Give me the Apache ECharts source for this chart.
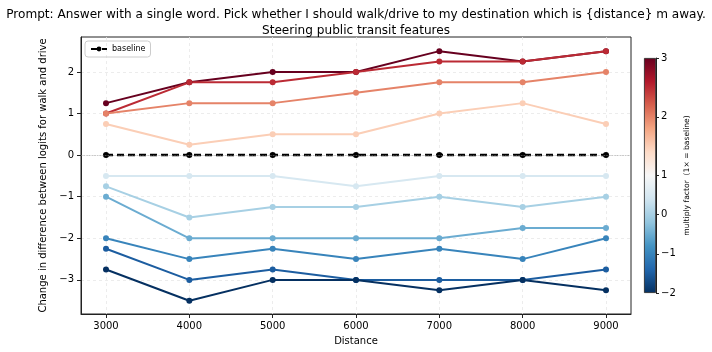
<!DOCTYPE html>
<html>
<head>
<meta charset="utf-8">
<script src="https://cdn.jsdelivr.net/npm/echarts@6/dist/echarts.min.js"></script>
<style>
  html, body { margin: 0; padding: 0; background: #fff; }
  #chart { width: 712px; height: 352px; }
</style>
</head>
<body>
<div id="chart"></div>
<script>
// NOTE - 数据
const distances = [3000, 4000, 5000, 6000, 7000, 8000, 9000]
const baseline = [0, 0, 0, 0, 0, 0, 0]
const factors = [3, 2.5, 2, 1.5, 0.5, 0, -0.5, -1, -1.5, -2]
const factorValues = [
  [1.25, 1.75, 2.0, 2.0, 2.5, 2.25, 2.5],      // 3
  [1.0, 1.75, 1.75, 2.0, 2.25, 2.25, 2.5],     // 2.5
  [1.0, 1.25, 1.25, 1.5, 1.75, 1.75, 2.0],     // 2
  [0.75, 0.25, 0.5, 0.5, 1.0, 1.25, 0.75],     // 1.5
  [-0.5, -0.5, -0.5, -0.75, -0.5, -0.5, -0.5], // 0.5
  [-0.75, -1.5, -1.25, -1.25, -1.0, -1.25, -1.0], // 0
  [-1.0, -2.0, -2.0, -2.0, -2.0, -1.75, -1.75],   // -0.5
  [-2.0, -2.5, -2.25, -2.5, -2.25, -2.5, -2.0],   // -1
  [-2.25, -3.0, -2.75, -3.0, -3.0, -3.0, -2.75],  // -1.5
  [-2.75, -3.5, -3.0, -3.0, -3.25, -3.0, -3.25]   // -2
]
const cbarTicks = [-2, -1, 0, 1, 2, 3]
const cbarMin = -2, cbarCenter = 1, cbarMax = 3

// RdBu_r 色带
const rdbu = ['#053061', '#2166ac', '#4393c3', '#92c5de', '#d1e5f0', '#f7f7f7',
  '#fddbc7', '#f4a582', '#d6604d', '#b2182b', '#67001f']

// 两段归一化 (中心 = 1)
const norm = v => v <= cbarCenter
  ? 0.5 * (v - cbarMin) / (cbarCenter - cbarMin)
  : 0.5 + 0.5 * (v - cbarCenter) / (cbarMax - cbarCenter)

const hex = c => [1, 3, 5].map(i => parseInt(c.slice(i, i + 2), 16))
const colorAt = t => {
  const p = t * (rdbu.length - 1)
  const i = Math.min(Math.floor(p), rdbu.length - 2)
  const f = p - i
  const a = hex(rdbu[i]), b = hex(rdbu[i + 1])
  return 'rgb(' + a.map((x, k) => Math.round(x + (b[k] - x) * f)).join(',') + ')'
}

const minus = v => String(v).replace('-', '\u2212')
const font = 'DejaVu Sans'

const factorSeries = factors.map((f, i) => ({
  name: 'x' + f,
  type: 'line',
  data: distances.map((d, j) => [d, factorValues[i][j]]),
  symbol: 'circle',
  symbolSize: 6,
  lineStyle: { width: 2, color: colorAt(norm(f)) },
  itemStyle: { color: colorAt(norm(f)) },
  z: 3
}))

const myChart = echarts.init(document.querySelector('#chart'), null, { renderer: 'canvas' })
const option = {
  animation: false,
  textStyle: { fontFamily: font },
  title: [
    {
      text: 'Prompt: Answer with a single word. Pick whether I should walk/drive to my destination which is {distance} m away.',
      left: 'center',
      top: 4,
      textStyle: { fontSize: 12.1, fontWeight: 'normal', color: '#000', fontFamily: font }
    },
    {
      text: 'Steering public transit features',
      left: 'center',
      top: 20,
      textStyle: { fontSize: 12.1, fontWeight: 'normal', color: '#000', fontFamily: font }
    }
  ],
  legend: {
    data: ['baseline'],
    left: 85,
    top: 41,
    orient: 'vertical',
    itemWidth: 16,
    itemHeight: 6,
    itemGap: 4,
    padding: [4, 5],
    borderColor: '#ccc',
    borderWidth: 1,
    borderRadius: 3,
    textStyle: { fontSize: 8, color: '#000', fontFamily: font }
  },
  grid: [
    { left: 81, right: 81, top: 37, bottom: 38, show: true, borderColor: '#222', borderWidth: 1, backgroundColor: 'transparent' },
    { left: 644, width: 12, top: 58, height: 235 }
  ],
  xAxis: [
    {
      type: 'value',
      gridIndex: 0,
      min: 2700,
      max: 9300,
      name: 'Distance',
      nameLocation: 'middle',
      nameGap: 22,
      nameTextStyle: { fontSize: 10, color: '#000' },
      axisLine: { show: true, onZero: false, lineStyle: { color: '#222' } },
      axisTick: { show: true, length: 4, lineStyle: { color: '#222' } },
      axisLabel: { fontSize: 10, color: '#000', showMinLabel: false, showMaxLabel: false, margin: 7, formatter: v => String(v) },
      splitLine: { show: true, showMinLine: false, showMaxLine: false, lineStyle: { color: '#e8e8e8', type: [3, 3], width: 0.8 } }
    },
    {
      type: 'category',
      gridIndex: 1,
      data: ['c'],
      show: false
    }
  ],
  yAxis: [
    {
      type: 'value',
      gridIndex: 0,
      min: -3.82,
      max: 2.84,
      name: 'Change in difference between logits for walk and drive',
      nameLocation: 'middle',
      nameGap: 13,
      nameTextStyle: { fontSize: 10, color: '#000' },
      axisLine: { show: true, onZero: false, lineStyle: { color: '#222' } },
      axisTick: { show: true, length: 4, lineStyle: { color: '#222' } },
      axisLabel: { fontSize: 10, color: '#000', showMinLabel: false, showMaxLabel: false, margin: 7, formatter: minus },
      splitLine: { show: true, showMinLine: false, showMaxLine: false, lineStyle: { color: '#e8e8e8', type: [3, 3], width: 0.8 } }
    },
    {
      type: 'value',
      gridIndex: 1,
      position: 'right',
      min: 0,
      max: 1,
      name: 'multiply factor  (1\u00d7 = baseline)',
      nameLocation: 'middle',
      nameRotate: 90,
      nameGap: 27,
      nameTextStyle: { fontSize: 7.6, color: '#000' },
      axisLine: { show: true, onZero: false, lineStyle: { color: '#222' } },
      axisTick: { show: true, length: 3, customValues: cbarTicks.map(norm), lineStyle: { color: '#222' } },
      axisLabel: {
        fontSize: 10, color: '#000', margin: 5,
        customValues: cbarTicks.map(norm),
        formatter: v => {
          const t = cbarTicks.find(c => Math.abs(norm(c) - v) < 1e-6)
          return t === undefined ? '' : minus(t)
        }
      },
      splitLine: { show: false }
    }
  ],
  series: [
    // 0 处的灰色点线
    {
      name: 'zero',
      type: 'line',
      data: [],
      z: 1,
      markLine: {
        silent: true,
        symbol: 'none',
        label: { show: false },
        emphasis: { disabled: true },
        lineStyle: { color: 'rgba(150,150,150,0.8)', type: 'dotted', width: 0.8 },
        data: [{ yAxis: 0 }]
      }
    },
    ...factorSeries,
    {
      name: 'baseline',
      type: 'line',
      data: distances.map((d, j) => [d, baseline[j]]),
      symbol: 'circle',
      symbolSize: 6,
      lineStyle: { width: 2.5, color: '#000', type: [7, 4] },
      itemStyle: { color: '#000' },
      z: 4
    },
    {
      name: 'cbar',
      type: 'bar',
      xAxisIndex: 1,
      yAxisIndex: 1,
      barWidth: '100%',
      data: [1],
      itemStyle: {
        borderColor: '#222',
        borderWidth: 0.8,
        color: new echarts.graphic.LinearGradient(0, 1, 0, 0,
          rdbu.map((c, i) => ({ offset: i / (rdbu.length - 1), color: c })))
      }
    }
  ]
}
myChart.setOption(option)
</script>
</body>
</html>
